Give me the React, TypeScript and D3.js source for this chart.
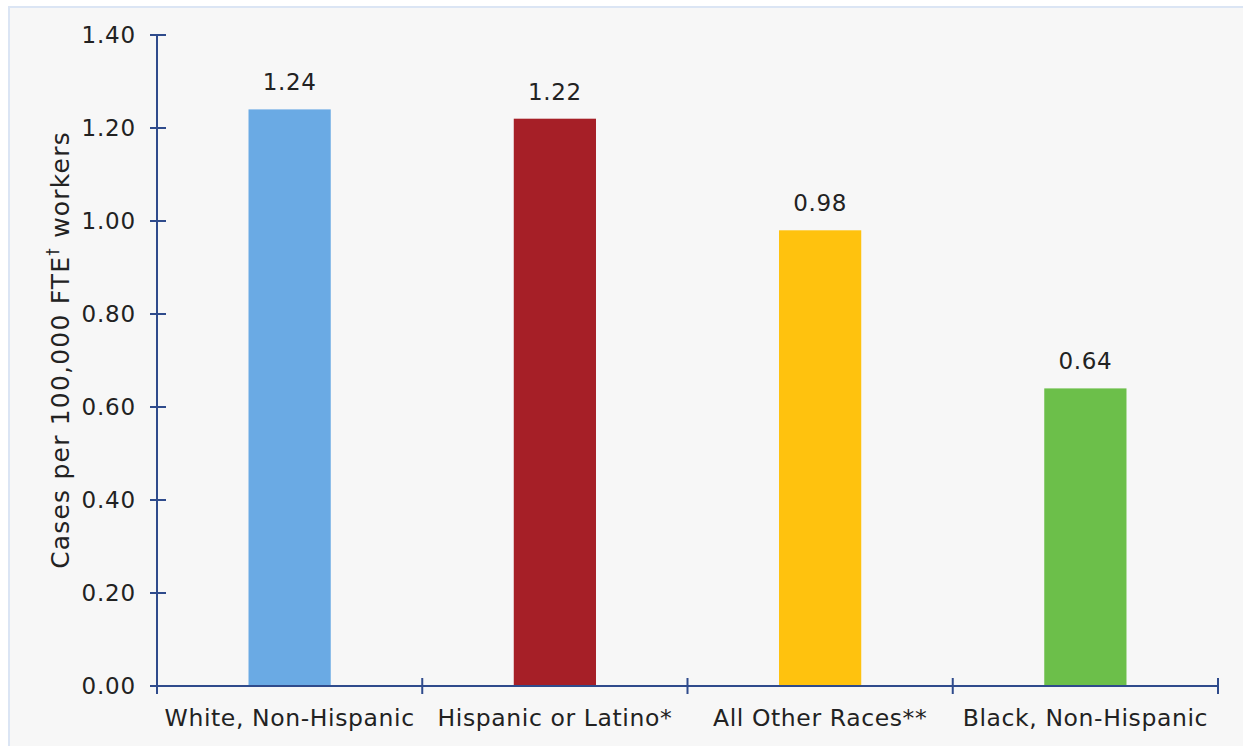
import React from "react";
import * as d3 from "d3";

const categories = ["White, Non-Hispanic", "Hispanic or Latino*", "All Other Races**", "Black, Non-Hispanic"];
const values = [1.24, 1.22, 0.98, 0.64];
const barColors = ["#6aaae4", "#a61f27", "#ffc20e", "#6cbf4a"];
const yTicks = [0, 0.2, 0.4, 0.6, 0.8, 1.0, 1.2, 1.4];

const W = 1243;
const H = 746;
const left = 157;
const right = 1218;
const top = 35;
const bottom = 686;
const axisColor = "#2f4b8c";
const font = "'DejaVu Sans', Verdana, sans-serif";

export default function App() {
  const x = d3.scaleBand<string>().domain(categories).range([left, right]).paddingInner(0).paddingOuter(0);
  const y = d3.scaleLinear().domain([0, 1.4]).range([bottom, top]);
  const bw = x.bandwidth() * 0.31;
  const fmt = d3.format(".2f");
  const boundaries = [left, ...categories.map((c) => (x(c) as number) + x.bandwidth())];

  return (
    <svg
      width={W}
      height={H}
      style={{ position: "absolute", left: 0, top: 0, display: "block" }}
      fontFamily={font}
    >
      <rect x={0} y={0} width={W} height={H} fill="#ffffff" />
      <rect x={9} y={7} width={W + 20} height={H + 20} fill="#f7f7f7" stroke="#dbe5f4" strokeWidth={2} />
      {categories.map((c, i) => {
        const cx = (x(c) as number) + x.bandwidth() / 2;
        return (
          <g key={c}>
            <rect x={cx - bw / 2} y={y(values[i])} width={bw} height={bottom - y(values[i])} fill={barColors[i]} />
            <text x={cx} y={y(values[i]) - 19} textAnchor="middle" fontSize={23} letterSpacing={0.6} fill="#222">
              {fmt(values[i])}
            </text>
            <text x={cx} y={726} textAnchor="middle" fontSize={23.5} letterSpacing={0.6} fill="#222">
              {c}
            </text>
          </g>
        );
      })}
      {/* y axis */}
      <line x1={left} x2={left} y1={top} y2={bottom + 8} stroke={axisColor} strokeWidth={2} />
      {yTicks.map((t) => (
        <g key={t}>
          <line x1={left - 7} x2={left + 9} y1={y(t)} y2={y(t)} stroke={axisColor} strokeWidth={2} />
          <text x={136} y={y(t)} textAnchor="end" dominantBaseline="central" fontSize={23} letterSpacing={0.8} fill="#222">
            {fmt(t)}
          </text>
        </g>
      ))}
      {/* x axis */}
      <line x1={left - 7} x2={right} y1={bottom} y2={bottom} stroke={axisColor} strokeWidth={2} />
      {boundaries.slice(1).map((b, i) => (
        <line key={i} x1={b} x2={b} y1={bottom - 8} y2={bottom + 8} stroke={axisColor} strokeWidth={2} />
      ))}
      <text
        transform={`translate(69, 350) rotate(-90)`}
        textAnchor="middle"
        fontSize={25}
        letterSpacing={1.2}
        fill="#222"
      >
        Cases per 100,000 FTE
        <tspan fontSize={15} dy={-11}>†</tspan>
        <tspan dy={11}> workers</tspan>
      </text>
    </svg>
  );
}
